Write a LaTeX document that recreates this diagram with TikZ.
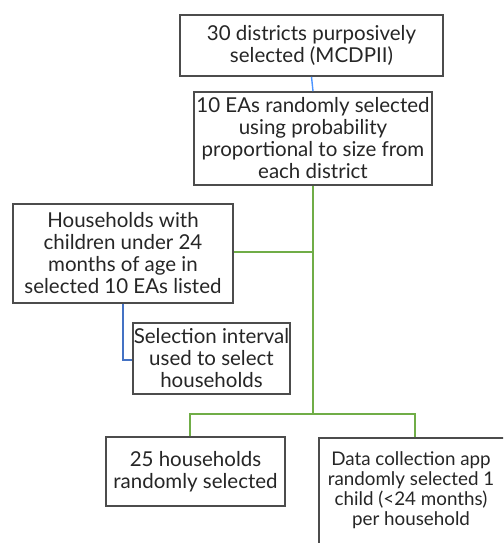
\documentclass[tikz,border=0pt]{standalone}
\usepackage{fontspec}
\setmainfont{Lato}
\begin{document}
\begin{tikzpicture}[x=1pt,y=-1pt,
  box/.style={draw=black!70, line width=1.6pt, fill=white, align=center, inner sep=0pt,
    font=\fontsize{20.5}{22}\selectfont, text=black!85},
  bl/.style={draw=blue!60!cyan!70!white, line width=1.4pt},
  bl2/.style={draw={rgb,255:red,68;green,114;blue,196}, line width=1.4pt},
  gr/.style={draw={rgb,255:red,112;green,173;blue,71}, line width=1.6pt}]
\useasboundingbox (0,0) rectangle (503,543);
\clip (0,0) rectangle (503,543);
\fill[white] (0,0) rectangle (503,543);
\node[box, minimum width=263pt, minimum height=61pt] (a) at (311.5,45.5) {30 districts purposively\\selected (MCDPII)};
\node[box, minimum width=238pt, minimum height=93pt] (b) at (313,138.5) {10 EAs randomly selected\\using probability\\proportional to size from\\each district};
\node[box, minimum width=220pt, minimum height=99pt] (c) at (123,253.5) {Households with\\children under 24\\months of age in\\selected 10 EAs listed};
\node[box, minimum width=157pt, minimum height=71pt] (d) at (211.5,358.5) {Selection interval\\used to select\\households};
\node[box, minimum width=179pt, minimum height=69pt] (e) at (195.5,471.5) {25 households\\randomly selected};
\node[box, minimum width=194pt, minimum height=126pt, anchor=north west] (f) at (318,437) {};
\node[font=\fontsize{18.8}{20}\selectfont, align=center, text=black!85, anchor=north, inner sep=0pt] (ft) at (411,451) {Data collection app\\randomly selected 1\\child (<24 months)\\per household};
\coordinate (j1) at (313,252);
\coordinate (j2) at (313,414);
\coordinate (j3) at (123,360);
\draw[bl] (a.south) -- (b.north);
\draw[gr] (b.south) -- (j2);
\draw[gr] (c.east |- j1) -- (j1);
\draw[bl2] (c.south -| j3) -- (j3) -- (d.west |- j3);
\draw[gr] (e.north -| 190,0) -- (190,414) -- (415,414) -- (f.north -| 415,0);
\end{tikzpicture}
\end{document}
